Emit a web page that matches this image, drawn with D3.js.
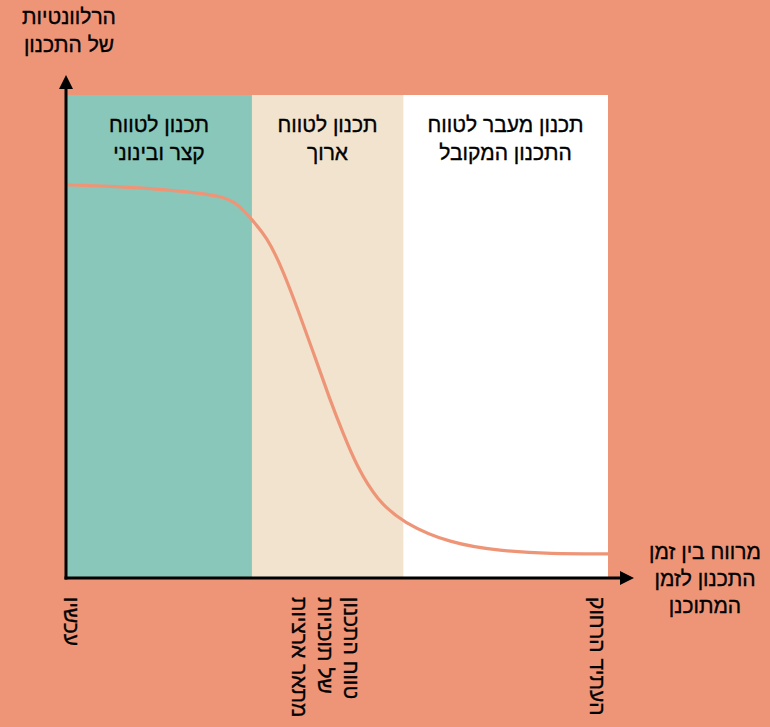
<!DOCTYPE html>
<html>
<head>
<meta charset="utf-8">
<script src="https://cdn.jsdelivr.net/npm/d3@7"></script>
<style>
  body { margin: 0; background: #EF9577; }
  svg { display: block; }
  text { font-family: "Liberation Sans", "DejaVu Sans", sans-serif; fill: #000; stroke: #000; stroke-width: 0.35px; }
</style>
</head>
<body>
<div id="chart"></div>
<script>
// time zones along the x axis (0..100 = now .. far future)
var zoneNames = [["תכנון לטווח", "קצר ובינוני"], ["תכנון לטווח", "ארוך"], ["תכנון מעבר לטווח", "התכנון המקובל"]];
var zoneEdges = [0, 34.3, 62.2, 100];
var zoneColors = ["#88C7BA", "#F1E3CD", "#FFFFFF"];

// relevance curve
var curveX = [0, 6.3, 15.5, 24.7, 29.0, 31.5, 33.9, 37.1, 40.0, 42.8, 45.8, 48.7, 51.1, 53.7, 57.4, 62.2, 70.8, 80.1, 89.3, 100];
var curveY = [81.4, 81.2, 80.7, 79.7, 78.9, 77.6, 74.7, 70.6, 63.8, 55.5, 46.2, 36.9, 30.0, 23.0, 16.1, 11.4, 7.2, 5.6, 5.0, 5.0];

// labels under the x axis
var markNames = [["עכשיו"], ["טווח התכנון", "של תוכניות", "מתאר ארציות"], ["העתיד הרחוק"]];
var markAt = [0.9, 47.8, 98];

var yTitle = ["הרלוונטיות", "של התכנון"];
var xTitle = ["מרווח בין זמן", "התכנון לזמן", "המתוכנן"];

var w = 770, h = 727;
var fs = 21, lh = 28;

var svg = d3.select("#chart").append("svg")
  .attr("width", w)
  .attr("height", h);

var x = d3.scaleLinear().domain([0, 100]).range([66, 608]);
var y = d3.scaleLinear().domain([0, 100]).range([578, 95]);

// zone backgrounds
svg.selectAll("rect.zone")
  .data(zoneNames)
  .enter()
  .append("rect")
  .attr("class", "zone")
  .attr("x", function(d, i) { return x(zoneEdges[i]); })
  .attr("y", y(100))
  .attr("width", function(d, i) { return x(zoneEdges[i + 1]) - x(zoneEdges[i]); })
  .attr("height", y(0) - y(100))
  .attr("fill", function(d, i) { return zoneColors[i]; });

// zone titles
svg.selectAll("text.zone")
  .data(zoneNames)
  .enter()
  .append("text")
  .attr("class", "zone")
  .attr("text-anchor", "middle")
  .attr("font-size", fs)
  .each(function(d, i) {
    var cx = (x(zoneEdges[i]) + x(zoneEdges[i + 1])) / 2;
    d3.select(this).selectAll("tspan")
      .data(d)
      .enter()
      .append("tspan")
      .attr("x", cx)
      .attr("y", function(t, j) { return 132 + j * lh; })
      .text(function(t) { return t; });
  });

// the curve
var pts = curveX.map(function(v, i) { return [v, curveY[i]]; });
var line = d3.line()
  .x(function(d) { return x(d[0]); })
  .y(function(d) { return y(d[1]); })
  .curve(d3.curveBasis);

svg.append("path")
  .attr("d", line(pts))
  .attr("fill", "none")
  .attr("stroke", "#EF9577")
  .attr("stroke-width", 3.2);

// axes with arrow heads
var defs = svg.append("defs");
defs.append("marker")
  .attr("id", "arrow")
  .attr("viewBox", "0 0 10 10")
  .attr("refX", 0)
  .attr("refY", 5)
  .attr("markerUnits", "userSpaceOnUse")
  .attr("markerWidth", 19)
  .attr("markerHeight", 14)
  .attr("orient", "auto")
  .append("path")
  .attr("d", "M0,0L10,5L0,10Z")
  .attr("fill", "#000");

svg.append("line")
  .attr("x1", x(0)).attr("y1", y(0) + 1.5)
  .attr("x2", x(0)).attr("y2", 89)
  .attr("stroke", "#000")
  .attr("stroke-width", 3)
  .attr("marker-end", "url(#arrow)");

svg.append("line")
  .attr("x1", x(0) - 1.5).attr("y1", y(0))
  .attr("x2", 620).attr("y2", y(0))
  .attr("stroke", "#000")
  .attr("stroke-width", 3)
  .attr("marker-end", "url(#arrow)");

// axis titles
svg.append("text")
  .attr("text-anchor", "middle")
  .attr("font-size", fs)
  .selectAll("tspan")
  .data(yTitle)
  .enter()
  .append("tspan")
  .attr("x", 69)
  .attr("y", function(d, i) { return 24 + i * lh; })
  .text(function(d) { return d; });

svg.append("text")
  .attr("text-anchor", "middle")
  .attr("font-size", fs)
  .selectAll("tspan")
  .data(xTitle)
  .enter()
  .append("tspan")
  .attr("x", 705)
  .attr("y", function(d, i) { return 559 + i * 27; })
  .text(function(d) { return d; });

// vertical labels under the axis
var lh2 = 26;
svg.selectAll("g.mark")
  .data(markNames)
  .enter()
  .append("g")
  .attr("class", "mark")
  .attr("transform", function(d, i) {
    var bx = x(markAt[i]) - 7 + (d.length - 1) * lh2 / 2;
    return "translate(" + bx + ",597) rotate(90)";
  })
  .append("text")
  .attr("font-size", fs)
  .attr("text-anchor", "start")
  .selectAll("tspan")
  .data(function(d) { return d; })
  .enter()
  .append("tspan")
  .attr("x", 0)
  .attr("y", function(d, i) { return i * lh2; })
  .text(function(d) { return d; });
</script>
</body>
</html>
